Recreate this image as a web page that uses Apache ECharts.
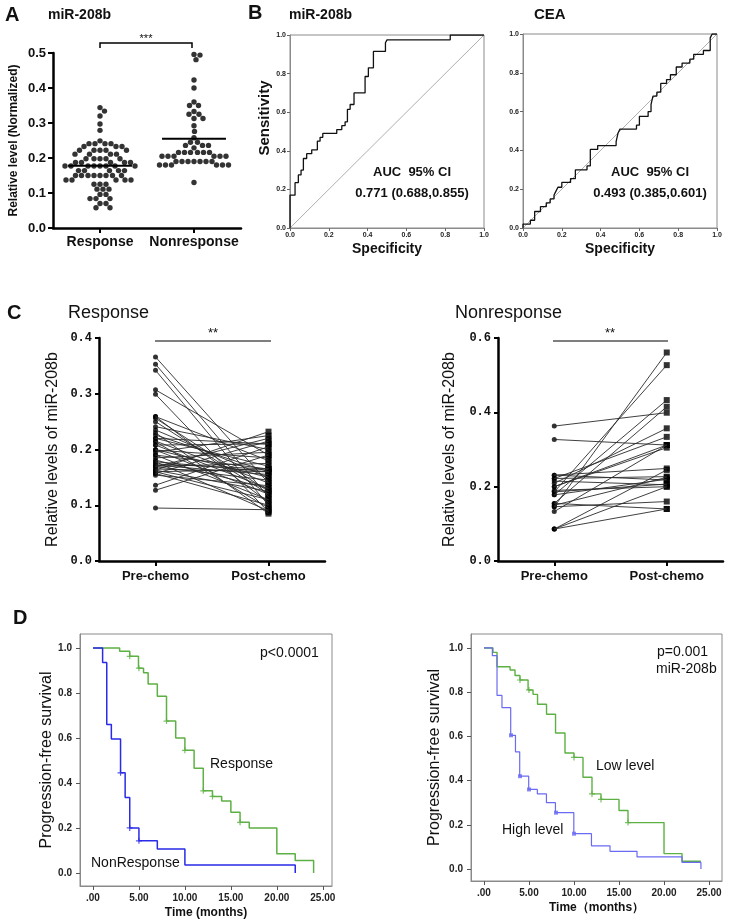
<!DOCTYPE html>
<html><head><meta charset="utf-8">
<script src="https://cdn.jsdelivr.net/npm/echarts@6/dist/echarts.min.js"></script>
<style>html,body{margin:0;padding:0;background:#fff}#c{width:731px;height:924px}</style>
</head><body><div id="c"></div>
<script>
// ---------- DATA ----------
const groupsA = ['Response', 'Nonresponse'];
const responseA = [0.344,0.334,0.320,0.297,0.279,0.249,
  0.241,0.241,0.241,0.241, 0.233,0.233,0.233,
  0.222,0.222,0.222,0.222,0.222, 0.211,0.211,0.211,0.211,
  0.198,0.198,0.198,0.198,0.198, 0.187,0.187,0.187,0.187,0.187,
  0.177,0.177,0.177,0.177,0.177,0.177,0.177,0.177,
  0.164,0.164,0.164,0.164,0.164,
  0.150,0.150,0.150,0.150,0.150,0.150,0.150,0.150,
  0.137,0.137,0.137,0.137,0.137, 0.125,0.125,0.125,
  0.111,0.111,0.111, 0.096,0.096, 0.084,0.084,0.084, 0.070,0.070, 0.058,0.058];
const nonresponseA = [0.496,0.494,0.481,0.423,0.400,0.360,0.350,0.350,0.333,0.325,0.325,
  0.313,0.313,0.292,0.276,0.258,0.245,0.245,0.236,0.236,0.236,0.229,
  0.216,0.216,0.216,0.216,0.216,0.216, 0.205,0.205,0.205,0.205,0.205,0.205,
  0.190,0.190,0.190,0.190,0.190,0.190,0.190, 0.180,0.180,0.180,0.180,0.180,0.180, 0.130];
const centerLineA = [0.178, 0.255];

const rocMirFpr = [0,0,0.026,0.043,0.057,0.069,0.086,0.112,0.141,0.155,0.169,0.241,0.267,0.284,0.296,0.31,0.33,0.387,0.404,0.43,0.492,0.50,0.826,1.0];
const rocMirTpr = [0,0.17,0.235,0.275,0.30,0.36,0.385,0.405,0.45,0.47,0.49,0.51,0.53,0.55,0.615,0.64,0.70,0.785,0.83,0.915,0.96,0.975,1.0,1.0];
const rocCeaFpr = [0,0,0.038,0.06,0.09,0.12,0.14,0.16,0.17,0.18,0.2,0.245,0.27,0.33,0.347,0.385,0.48,0.49,0.5,0.585,0.6,0.645,0.66,0.67,0.69,0.71,0.74,0.76,0.79,0.82,0.86,0.88,0.93,0.965,0.975,1.0];
const rocCeaTpr = [0,0.02,0.04,0.085,0.11,0.13,0.15,0.17,0.19,0.21,0.235,0.255,0.30,0.32,0.405,0.425,0.445,0.49,0.51,0.53,0.575,0.60,0.637,0.68,0.70,0.745,0.765,0.79,0.83,0.85,0.87,0.895,0.915,0.98,1.0,1.0];

const chemoCats = ['Pre-chemo', 'Post-chemo'];
const respPre  = [0.366,0.353,0.342,0.307,0.299,0.259,0.256,0.259,0.241,0.235,0.226,0.220,0.220,0.214,0.208,0.208,0.199,0.199,0.190,0.190,0.185,0.178,0.178,0.174,0.169,0.169,0.165,0.163,0.163,0.160,0.157,0.157,0.154,0.136,0.127,0.095,0.230,0.200,0.170,0.215,0.250,0.195,0.160,0.172,0.181];
const respPost = [0.140,0.115,0.100,0.190,0.088,0.105,0.125,0.180,0.200,0.150,0.160,0.210,0.170,0.095,0.130,0.210,0.185,0.120,0.165,0.110,0.195,0.160,0.090,0.165,0.220,0.145,0.160,0.232,0.125,0.165,0.215,0.100,0.135,0.205,0.190,0.092,0.085,0.150,0.175,0.140,0.120,0.225,0.110,0.155,0.130];
const nonPre  = [0.363,0.327,0.146,0.186,0.178,0.155,0.209,0.222,0.200,0.133,0.231,0.222,0.231,0.186,0.190,0.146,0.155,0.086,0.086,0.086,0.178,0.150,0.215,0.200];
const nonPost = [0.399,0.312,0.561,0.527,0.433,0.415,0.357,0.334,0.305,0.312,0.249,0.227,0.218,0.207,0.200,0.160,0.140,0.245,0.200,0.140,0.220,0.225,0.205,0.312];

const kmTicksX = [0,5,10,15,20,25];
const kmTicksY = [0,0.2,0.4,0.6,0.8,1.0];
const respTime = [0,2.9,4.0,4.95,5.5,6.0,7.0,8.0,9.0,10.0,11.0,12.0,13.0,14.0,15.0,16.0,17.0,20.0,22.0,24.0];
const respSurv = [1,0.985,0.963,0.91,0.89,0.84,0.785,0.675,0.60,0.545,0.465,0.365,0.34,0.32,0.27,0.225,0.20,0.085,0.055,0.0];
const respCensT = [4,5,8,10,12,13,16];
const respCensS = [0.963,0.91,0.675,0.545,0.365,0.34,0.225];
const nonTime = [0,1.05,1.5,2.0,3.0,3.5,4.0,5.0,7.0,10.0,22.0];
const nonSurv = [1,0.935,0.66,0.595,0.445,0.335,0.20,0.143,0.107,0.035,0.0];
const nonCensT = [3,4,5];
const nonCensS = [0.445,0.20,0.143];
const lowTime = [0,1.0,1.45,2.9,3.45,4.0,4.9,5.45,5.95,6.95,7.95,9.0,10.0,11.0,12.0,13.0,15.0,16.0,20.0,22.0,24.1];
const lowSurv = [1,0.98,0.915,0.90,0.875,0.855,0.81,0.79,0.745,0.70,0.615,0.525,0.505,0.415,0.34,0.315,0.265,0.21,0.07,0.035,0.035];
const lowCensT = [4,5,10,12,13,16];
const lowCensS = [0.855,0.81,0.505,0.34,0.315,0.21];
const highTime = [0,0.93,1.45,2.0,2.97,3.5,3.97,4.97,5.93,6.94,7.94,9.98,11.94,14.0,17.0,22.0,24.1];
const highSurv = [1,0.965,0.785,0.73,0.605,0.53,0.42,0.36,0.34,0.30,0.255,0.16,0.105,0.08,0.055,0.03,0.0];
const highCensT = [3,4,5,8,10];
const highCensS = [0.605,0.42,0.36,0.255,0.16];

// ---------- HELPERS ----------
const FONT = "'Liberation Sans', Arial, sans-serif";
const zip = (a, b) => a.map((v, i) => [v, b[i]]);

// beeswarm layout (pixel space) -> offsets in axis units
function swarm(vals, center, pxPerY, pxPerX, diam) {
  const sorted = vals.slice().sort((a, b) => b - a);
  const placed = [], out = [];
  for (const v of sorted) {
    const y = v * pxPerY;
    let best = null;
    for (let k = 0; k < 400 && best === null; k++) {
      const cands = k === 0 ? [0] : [k * 0.5, -k * 0.5];
      for (const x of cands) {
        if (placed.every(q => (q.x - x) ** 2 + (q.y - y) ** 2 >= diam * diam)) { best = x; break; }
      }
    }
    placed.push({ x: best, y });
    out.push([center + best / pxPerX, v]);
  }
  return out;
}

const gA = { left: 53, top: 53, width: 188, height: 175 };
const pxYA = gA.height / 0.5, pxXA = gA.width / 2;

const blackAxis = (w) => ({ show: true, onZero: false, lineStyle: { color: '#000', width: w } });
const grayAxis = { show: true, onZero: false, lineStyle: { color: '#8a8a8a', width: 1 } };

// ---------- OPTION ----------
const grids = [
  gA,
  { left: 290, top: 35, width: 194, height: 193 },
  { left: 523, top: 34, width: 194, height: 194 },
  { left: 99, top: 338, width: 226, height: 223 },
  { left: 498, top: 338, width: 225, height: 223 },
  { left: 80, top: 634, width: 252, height: 252 },
  { left: 471, top: 634, width: 251, height: 247 }
].map((g, i) => Object.assign({ outerBoundsMode: 'none', containLabel: false }, g,
  (i === 1 || i === 2 || i >= 5) ? { show: true, borderColor: '#8a8a8a', borderWidth: 1, backgroundColor: 'transparent' } : {}));

function rocX(gi, showName) {
  return { type: 'value', gridIndex: gi, min: 0, max: 1, interval: 0.2,
    axisLine: grayAxis,
    axisTick: { show: true, length: 3, lineStyle: { color: '#666' } },
    axisLabel: { fontSize: 7, fontWeight: 'bold', color: '#222', fontFamily: FONT, margin: 4, formatter: v => v.toFixed(1) },
    splitLine: { show: false },
    name: showName ? 'Specificity' : '', nameLocation: 'middle', nameGap: 14,
    nameTextStyle: { fontSize: 14, fontWeight: 'bold', color: '#111', fontFamily: FONT } };
}
function rocY(gi) {
  return { type: 'value', gridIndex: gi, min: 0, max: 1, interval: 0.2,
    axisLine: grayAxis,
    axisTick: { show: true, length: 3, lineStyle: { color: '#666' } },
    axisLabel: { fontSize: 7, fontWeight: 'bold', color: '#222', fontFamily: FONT, margin: 4, formatter: v => v.toFixed(1) },
    splitLine: { show: false } };
}
function chemoX(gi) {
  return { type: 'category', gridIndex: gi, data: chemoCats, boundaryGap: true,
    axisLine: blackAxis(2.5),
    axisTick: { show: true, alignWithLabel: true, length: 5, lineStyle: { color: '#000', width: 2 } },
    axisLabel: { interval: 0, fontSize: 13, fontWeight: 'bold', color: '#111', fontFamily: FONT, margin: 9 } };
}
function chemoY(gi, max, interval, nameGap) {
  return { type: 'value', gridIndex: gi, min: 0, max: max, interval: interval,
    axisLine: blackAxis(2.5),
    axisTick: { show: true, length: 4, lineStyle: { color: '#000', width: 2 } },
    axisLabel: { fontSize: 12, fontWeight: 'bold', color: '#111', fontFamily: "'Liberation Mono', 'DejaVu Sans Mono', monospace", margin: 7, formatter: v => v.toFixed(1) },
    splitLine: { show: false },
    name: 'Relative levels of miR-208b', nameLocation: 'middle', nameGap: nameGap, nameRotate: 90,
    nameTextStyle: { fontSize: 16, color: '#111', fontFamily: FONT } };
}
function kmX(gi, min, max, name) {
  return { type: 'value', gridIndex: gi, min: min, max: max,
    axisLine: grayAxis,
    axisTick: { show: true, length: 4, customValues: kmTicksX, lineStyle: { color: '#555' } },
    axisLabel: { fontSize: 10, fontWeight: 'bold', color: '#222', fontFamily: FONT, margin: 7, customValues: kmTicksX,
      formatter: v => v === 0 ? '.00' : v.toFixed(2) },
    splitLine: { show: false },
    name: name, nameLocation: 'middle', nameGap: 21,
    nameTextStyle: { fontSize: 12, fontWeight: 'bold', color: '#111', fontFamily: FONT } };
}
function kmY(gi, min, max, nameGap) {
  return { type: 'value', gridIndex: gi, min: min, max: max,
    axisLine: grayAxis,
    axisTick: { show: true, length: 4, customValues: kmTicksY, lineStyle: { color: '#555' } },
    axisLabel: { fontSize: 10, fontWeight: 'bold', color: '#222', fontFamily: FONT, margin: 8, customValues: kmTicksY,
      formatter: v => v.toFixed(1) },
    splitLine: { show: false },
    name: 'Progression-free survival', nameLocation: 'middle', nameGap: nameGap, nameRotate: 90,
    nameTextStyle: { fontSize: 16, color: '#111', fontFamily: FONT } };
}

const xAxes = [
  { type: 'category', gridIndex: 0, data: groupsA, boundaryGap: true,
    axisLine: blackAxis(2.5),
    axisTick: { show: true, alignWithLabel: true, length: 5, lineStyle: { color: '#000', width: 2 } },
    axisLabel: { interval: 0, fontSize: 14, fontWeight: 'bold', color: '#111', fontFamily: FONT, margin: 7 } },
  { type: 'value', gridIndex: 0, min: -0.5, max: 1.5, show: false },
  rocX(1, true), rocX(2, true),
  chemoX(3), chemoX(4),
  kmX(5, -1.41, 26, 'Time (months)'),
  kmX(6, -1.44, 26.44, 'Time（months）')
];
const yAxes = [
  { type: 'value', gridIndex: 0, min: 0, max: 0.5, interval: 0.1,
    axisLine: blackAxis(2.5),
    axisTick: { show: true, length: 5, lineStyle: { color: '#000', width: 2 } },
    axisLabel: { fontSize: 13, fontWeight: 'bold', color: '#111', fontFamily: FONT, margin: 7, formatter: v => v.toFixed(1) },
    splitLine: { show: false },
    name: 'Relative level (Normalized)', nameLocation: 'middle', nameGap: 33, nameRotate: 90,
    nameTextStyle: { fontSize: 12, fontWeight: 'bold', color: '#111', fontFamily: FONT } },
  rocY(1), rocY(2),
  chemoY(3, 0.4, 0.1, 38), chemoY(4, 0.6, 0.2, 40),
  kmY(5, -0.058, 1.062, 25), kmY(6, -0.054, 1.063, 28)
];

const series = [];
// Panel A
[responseA, nonresponseA].forEach((vals, gi) => {
  series.push({ type: 'scatter', xAxisIndex: 1, yAxisIndex: 0, symbol: 'circle', symbolSize: 5.4,
    itemStyle: { color: '#000' }, data: swarm(vals, gi, pxYA, pxXA, 5.6), silent: true });
  series.push({ type: 'line', xAxisIndex: 1, yAxisIndex: 0, symbol: 'none',
    lineStyle: { color: '#000', width: 2 }, data: [[gi - 0.34, centerLineA[gi]], [gi + 0.34, centerLineA[gi]]] });
});
// Panel B
[[rocMirFpr, rocMirTpr, 2, 1], [rocCeaFpr, rocCeaTpr, 3, 2]].forEach(([fx, ty, xi, yi]) => {
  series.push({ type: 'line', xAxisIndex: xi, yAxisIndex: yi, symbol: 'none',
    lineStyle: { color: '#9a9a9a', width: 0.8 }, data: [[0, 0], [1, 1]] });
  series.push({ type: 'line', xAxisIndex: xi, yAxisIndex: yi, symbol: 'none', step: 'end',
    lineStyle: { color: '#111', width: 1.3 }, data: zip(fx, ty) });
});
// Panel C
[[respPre, respPost, 4, 3], [nonPre, nonPost, 5, 4]].forEach(([pre, post, xi, yi]) => {
  pre.forEach((v, i) => {
    series.push({ type: 'line', xAxisIndex: xi, yAxisIndex: yi, symbol: 'none',
      lineStyle: { color: '#2a2a2a', width: 0.9 }, data: [v, post[i]] });
  });
  series.push({ type: 'scatter', xAxisIndex: xi, yAxisIndex: yi, symbol: 'circle', symbolSize: 5,
    itemStyle: { color: '#000' }, data: pre.map(v => [0, v]) });
  series.push({ type: 'scatter', xAxisIndex: xi, yAxisIndex: yi, symbol: 'rect', symbolSize: 6,
    itemStyle: { color: '#000' }, data: post.map(v => [1, v]) });
});
// Panel D
const PLUS = 'path://M4,0H6V4H10V6H6V10H4V6H0V4H4Z';
const GREEN = '#5db043', BLUE1 = '#2a2ae8', BLUE2 = '#6a6af2';
[
  [respTime, respSurv, respCensT, respCensS, GREEN, 6, 5, PLUS, 1.5],
  [nonTime, nonSurv, nonCensT, nonCensS, BLUE1, 6, 5, PLUS, 1.5],
  [lowTime, lowSurv, lowCensT, lowCensS, GREEN, 7, 6, PLUS, 1.4],
  [highTime, highSurv, highCensT, highCensS, BLUE2, 7, 6, 'rect', 1.2]
].forEach(([t, s, ct, cs, col, xi, yi, sym, w]) => {
  series.push({ type: 'line', xAxisIndex: xi, yAxisIndex: yi, symbol: 'none', step: 'end',
    lineStyle: { color: col, width: w }, data: zip(t, s) });
  series.push({ type: 'scatter', xAxisIndex: xi, yAxisIndex: yi, symbol: sym, symbolSize: sym === 'rect' ? 4 : 6,
    itemStyle: { color: col }, data: zip(ct, cs) });
});

function txt(x, y, text, size, bold, align, rot) {
  return { type: 'text', x: x, y: y, rotation: rot || 0, silent: true,
    style: { text: text, fontSize: size, fontWeight: bold ? 'bold' : 'normal', fontFamily: FONT,
      fill: '#111', align: align || 'left', verticalAlign: 'middle' } };
}
function seg(pts, w) {
  return { type: 'polyline', silent: true, shape: { points: pts }, style: { stroke: '#000', lineWidth: w, fill: null } };
}

const graphic = [
  txt(5, 15, 'A', 20, true), txt(48, 15, 'miR-208b', 14, true),
  seg([[100, 48], [100, 43], [192, 43], [192, 48]], 1.5), txt(146, 39, '***', 11, false, 'center'),
  txt(248, 13, 'B', 20, true), txt(289, 15, 'miR-208b', 14, true), txt(534, 15, 'CEA', 15, true),
  txt(265, 118, 'Sensitivity', 15, true, 'center', Math.PI / 2),
  txt(412, 172, 'AUC  95% CI', 13, true, 'center'), txt(412, 193, '0.771 (0.688,0.855)', 13, true, 'center'),
  txt(650, 172, 'AUC  95% CI', 13, true, 'center'), txt(650, 193, '0.493 (0.385,0.601)', 13, true, 'center'),
  txt(7, 313, 'C', 20, true), txt(68, 313, 'Response', 18, false), txt(455, 313, 'Nonresponse', 18, false),
  seg([[155, 341], [271, 341]], 1.2), txt(213, 333, '**', 13, false, 'center'),
  seg([[553, 341], [668, 341]], 1.2), txt(610, 333, '**', 13, false, 'center'),
  txt(13, 618, 'D', 20, true),
  txt(260, 653, 'p<0.0001', 14, false), txt(210, 764, 'Response', 14, false), txt(91, 863, 'NonResponse', 14, false),
  txt(657, 652, 'p=0.001', 14, false), txt(656, 669, 'miR-208b', 14, false),
  txt(596, 766, 'Low level', 14, false), txt(502, 830, 'High level', 14, false)
];

const chart = echarts.init(document.getElementById('c'), null, { renderer: 'canvas' });
chart.setOption({
  animation: false,
  backgroundColor: '#fff',
  grid: grids, xAxis: xAxes, yAxis: yAxes, series: series, graphic: graphic
});
</script>
</body></html>
